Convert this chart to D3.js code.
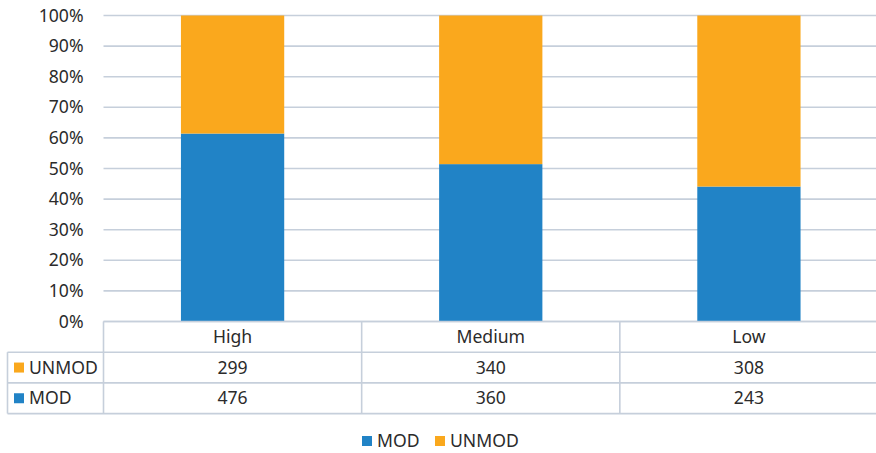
<!DOCTYPE html>
<html>
<head>
<meta charset="utf-8">
<script src="https://cdn.jsdelivr.net/npm/d3@7"></script>
<style>
  html, body { margin: 0; padding: 0; background: #fff; }
  svg { display: block; }
  text { font-family: "Noto Sans", "Open Sans", sans-serif; fill: #2b2b2b; }
</style>
</head>
<body>
<svg id="chart" width="876" height="453"></svg>
<script>
// Counts per exposure level
const categories = ["High", "Medium", "Low"];
const seriesNames = ["MOD", "UNMOD"];
const modValues = [476, 360, 243];
const unmodValues = [299, 340, 308];
const yTicks = [0, 0.1, 0.2, 0.3, 0.4, 0.5, 0.6, 0.7, 0.8, 0.9, 1];

const colors = { MOD: "#2183c6", UNMOD: "#faa81d" };
const gridColor = "#c6cfdb";
const fontSize = 17.6;

const svg = d3.select("#chart");

const plotLeft = 103.5, plotRight = 878, plotTop = 15.5, plotBottom = 321.5;
const rowH = 30.7;
const tableLeft = 7.5;

const x = d3.scaleBand().domain(categories).range([plotLeft, plotRight]).paddingInner(0.6).paddingOuter(0.3);
const xCell = d3.scaleBand().domain(categories).range([plotLeft, plotRight]);
const y = d3.scaleLinear().domain([0, 1]).range([plotBottom, plotTop]);

const rows = categories.map((c, i) => ({
  cat: c, MOD: modValues[i], UNMOD: unmodValues[i], total: modValues[i] + unmodValues[i]
}));

// Gridlines
svg.append("g").selectAll("line").data(yTicks).join("line")
  .attr("x1", plotLeft).attr("x2", plotRight)
  .attr("y1", d => y(d)).attr("y2", d => y(d))
  .attr("stroke", gridColor).attr("stroke-width", 1.6);

// Y axis labels
const yAxis = d3.axisLeft(y).tickValues(yTicks).tickFormat(d3.format(".0%")).tickSize(0).tickPadding(0);
const gy = svg.append("g").attr("transform", `translate(${plotLeft - 20},0)`).call(yAxis);
gy.select(".domain").remove();
gy.selectAll("text").style("font-size", fontSize + "px").attr("fill", "#2b2b2b")
  .style("font-family", '"Noto Sans", sans-serif');

// Stacked 100% bars
const stack = d3.stack().keys(seriesNames)
  .value((d, k) => d[k] / d.total);
const layers = stack(rows);
svg.append("g").selectAll("g").data(layers).join("g")
  .attr("fill", d => colors[d.key])
  .selectAll("rect").data(d => d).join("rect")
  .attr("x", d => x(d.data.cat))
  .attr("width", x.bandwidth())
  .attr("y", d => y(d[1]))
  .attr("height", d => y(d[0]) - y(d[1]));

// Data table
const tbl = svg.append("g");
const rowY = [plotBottom, plotBottom + rowH, plotBottom + 2 * rowH, plotBottom + 3 * rowH];
tbl.append("line").attr("x1", plotLeft).attr("x2", plotRight).attr("y1", rowY[0]).attr("y2", rowY[0])
  .attr("stroke", gridColor).attr("stroke-width", 1.6);
[1, 2, 3].forEach(i => {
  tbl.append("line").attr("x1", tableLeft).attr("x2", plotRight).attr("y1", rowY[i]).attr("y2", rowY[i])
    .attr("stroke", gridColor).attr("stroke-width", 1.6);
});
tbl.append("line").attr("x1", tableLeft).attr("x2", tableLeft).attr("y1", rowY[1]).attr("y2", rowY[3])
  .attr("stroke", gridColor).attr("stroke-width", 1.6);
categories.forEach(c => {
  tbl.append("line").attr("x1", xCell(c)).attr("x2", xCell(c)).attr("y1", rowY[0]).attr("y2", rowY[3])
    .attr("stroke", gridColor).attr("stroke-width", 1.6);
});
// header row
tbl.selectAll("text.hdr").data(categories).join("text").attr("class", "hdr")
  .attr("x", c => xCell(c) + xCell.bandwidth() / 2)
  .attr("y", rowY[0] + rowH / 2)
  .attr("dy", "0.35em").attr("text-anchor", "middle")
  .style("font-size", fontSize + "px").text(c => c);
// series rows: UNMOD on top, MOD below
const tableSeries = ["UNMOD", "MOD"];
tableSeries.forEach((s, r) => {
  const cy = rowY[r + 1] + rowH / 2;
  tbl.append("rect").attr("x", 14).attr("y", cy - 5).attr("width", 10).attr("height", 10).attr("fill", colors[s]);
  tbl.append("text").attr("x", 29).attr("y", cy).attr("dy", "0.35em")
    .style("font-size", fontSize + "px").text(s);
  tbl.selectAll(null).data(rows).join("text")
    .attr("x", d => xCell(d.cat) + xCell.bandwidth() / 2)
    .attr("y", cy).attr("dy", "0.35em").attr("text-anchor", "middle")
    .style("font-size", fontSize + "px").text(d => d[s]);
});

// Legend
const legend = svg.append("g").attr("transform", "translate(0,441)");
const legendItems = [{ key: "MOD", x: 362 }, { key: "UNMOD", x: 435 }];
legendItems.forEach(it => {
  legend.append("rect").attr("x", it.x).attr("y", -5).attr("width", 10).attr("height", 10).attr("fill", colors[it.key]);
  legend.append("text").attr("x", it.x + 15).attr("y", 0).attr("dy", "0.35em")
    .style("font-size", fontSize + "px").text(it.key);
});
</script>
</body>
</html>
